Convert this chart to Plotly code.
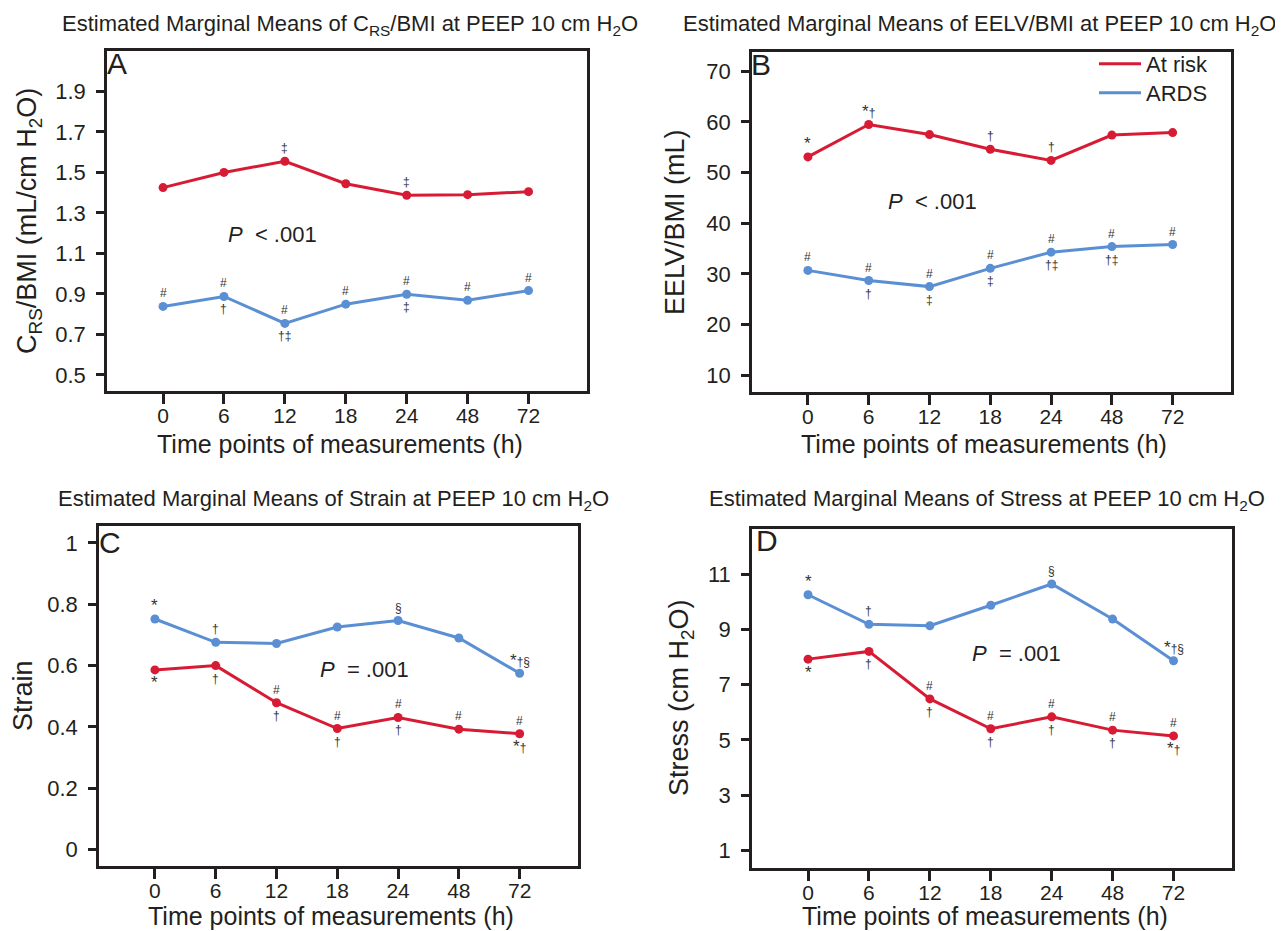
import plotly.graph_objects as go

W, H = 1283, 931

time_labels = ["0", "6", "12", "18", "24", "48", "72"]

# Panel A: CRS/BMI
a_risk = [1.425, 1.500, 1.555, 1.444, 1.387, 1.390, 1.405]
a_ards = [0.838, 0.887, 0.754, 0.849, 0.898, 0.868, 0.916]
# Panel B: EELV/BMI
b_risk = [53.1, 59.5, 57.5, 54.6, 52.4, 57.4, 57.9]
b_ards = [30.7, 28.7, 27.5, 31.1, 34.3, 35.4, 35.8]
# Panel C: Strain
c_risk = [0.586, 0.600, 0.479, 0.395, 0.431, 0.393, 0.378]
c_ards = [0.752, 0.676, 0.672, 0.726, 0.747, 0.690, 0.575]
# Panel D: Stress
d_risk = [7.92, 8.20, 6.48, 5.40, 5.83, 5.35, 5.14]
d_ards = [10.25, 9.18, 9.13, 9.87, 10.64, 9.37, 7.86]

# significance marks (above / below each point)
a_risk_above = ["", "", "‡", "", "‡", "", ""]
a_risk_below = ["", "", "", "", "", "", ""]
a_ards_above = ["#", "#", "#", "#", "#", "#", "#"]
a_ards_below = ["", "†", "†‡", "", "‡", "", ""]

b_risk_above = ["*", "*†", "", "†", "†", "", ""]
b_risk_below = ["", "", "", "", "", "", ""]
b_ards_above = ["#", "#", "#", "#", "#", "#", "#"]
b_ards_below = ["", "†", "‡", "‡", "†‡", "†‡", ""]

c_risk_above = ["", "", "#", "#", "#", "#", "#"]
c_risk_below = ["*", "†", "†", "†", "†", "", "*†"]
c_ards_above = ["*", "†", "", "", "§", "", "*†§"]
c_ards_below = ["", "", "", "", "", "", ""]

d_risk_above = ["", "", "#", "#", "#", "#", "#"]
d_risk_below = ["*", "†", "†", "†", "†", "†", "*†"]
d_ards_above = ["*", "†", "", "", "§", "", "*†§"]
d_ards_below = ["", "", "", "", "", "", ""]

a_yticks = [0.5, 0.7, 0.9, 1.1, 1.3, 1.5, 1.7, 1.9]
b_yticks = [10, 20, 30, 40, 50, 60, 70]
c_yticks = [0, 0.2, 0.4, 0.6, 0.8, 1]
d_yticks = [1, 3, 5, 7, 9, 11]

RED = "#D81B34"
BLUE = "#5B8FD4"
INK = "#231F20"
MARK = "#333333"
FONT = "Liberation Sans, Arial, sans-serif"

x_idx = list(range(len(time_labels)))

fig = go.Figure()

panels = [
    ("x", "y", a_risk, a_ards, a_risk_above, a_risk_below, a_ards_above, a_ards_below),
    ("x2", "y2", b_risk, b_ards, b_risk_above, b_risk_below, b_ards_above, b_ards_below),
    ("x3", "y3", c_risk, c_ards, c_risk_above, c_risk_below, c_ards_above, c_ards_below),
    ("x4", "y4", d_risk, d_ards, d_risk_above, d_risk_below, d_ards_above, d_ards_below),
]


def fmt_mark(t):
    return t.replace("*", "<span style='font-size:17px'>*</span>")


annotations = []
for xa, ya, risk, ards, ra, rb, aa, ab in panels:
    fig.add_trace(go.Scatter(x=x_idx, y=risk, mode="lines+markers", name="At risk",
                             line=dict(color=RED, width=3), marker=dict(color=RED, size=9),
                             xaxis=xa, yaxis=ya, showlegend=False))
    fig.add_trace(go.Scatter(x=x_idx, y=ards, mode="lines+markers", name="ARDS",
                             line=dict(color=BLUE, width=3), marker=dict(color=BLUE, size=9),
                             xaxis=xa, yaxis=ya, showlegend=False))
    for vals, above, below in ((risk, ra, rb), (ards, aa, ab)):
        for i, v in enumerate(vals):
            for txt, shift in ((above[i], 13), (below[i], -13)):
                if txt:
                    annotations.append(dict(x=i, y=v, xref=xa, yref=ya, text=fmt_mark(txt),
                                            showarrow=False, yshift=shift,
                                            font=dict(size=12, color=MARK, family=FONT)))

# legend entries (line keys only), one legend box per entry
fig.add_trace(go.Scatter(x=[None], y=[None], mode="lines", name="At risk",
                         line=dict(color=RED, width=3), xaxis="x2", yaxis="y2",
                         legend="legend"))
fig.add_trace(go.Scatter(x=[None], y=[None], mode="lines", name="ARDS",
                         line=dict(color=BLUE, width=3), xaxis="x2", yaxis="y2",
                         legend="legend2"))


def px(x):
    return x / W


def py(y):
    return 1 - y / H


def paper_text(x, y, text, size, angle=0):
    annotations.append(dict(x=px(x), y=py(y), xref="paper", yref="paper", text=text,
                            showarrow=False, textangle=angle, xanchor="center", yanchor="middle",
                            font=dict(size=size, color=INK, family=FONT)))


TS = 22
# panel titles
paper_text(342, 17, "Estimated Marginal Means of C<sub>RS</sub>/BMI at PEEP 10 cm H<sub>2</sub>O", TS)
paper_text(972, 17, "Estimated Marginal Means of EELV/BMI at PEEP 10 cm H<sub>2</sub>O", TS)
paper_text(325, 492, "Estimated Marginal Means of Strain at PEEP 10 cm H<sub>2</sub>O", TS)
paper_text(979, 492, "Estimated Marginal Means of Stress at PEEP 10 cm H<sub>2</sub>O", TS)
# panel letters
paper_text(109, 55, "A", 30)
paper_text(753, 57, "B", 30)
paper_text(102, 534, "C", 30)
paper_text(759, 532, "D", 30)
# y titles
AT = 27
paper_text(21, 213, "C<sub>RS</sub>/BMI (mL/cm H<sub>2</sub>O)", AT, angle=-90)
paper_text(667, 214, "EELV/BMI (mL)", AT, angle=-90)
paper_text(15, 688, "Strain", AT, angle=-90)
paper_text(673, 690, "Stress (cm H<sub>2</sub>O)", AT, angle=-90)
# x titles
XT = 25
paper_text(332, 436, "Time points of measurements (h)", XT)
paper_text(976, 436, "Time points of measurements (h)", XT)
paper_text(323, 908, "Time points of measurements (h)", XT)
paper_text(977, 908, "Time points of measurements (h)", XT)
# P values
paper_text(264, 226, "<i>P</i>&nbsp; &lt; .001", 22)
paper_text(925, 193, "<i>P</i>&nbsp; &lt; .001", 22)
paper_text(356, 661, "<i>P</i>&nbsp; = .001", 22)
paper_text(1008, 645, "<i>P</i>&nbsp; = .001", 22)


def xaxis(dom):
    return dict(domain=dom, range=[-0.92, 6.96], tickvals=x_idx, ticktext=time_labels,
                showline=True, mirror=True, linecolor=INK, linewidth=2.5,
                ticks="outside", ticklen=10, tickwidth=2.5, tickcolor=INK,
                showgrid=False, zeroline=False, ticklabelstandoff=-6,
                tickfont=dict(size=21, color=INK, family=FONT))


def yaxis(dom, rng, tv, anchor):
    return dict(domain=dom, range=rng, tickvals=tv, ticktext=[f"{t:g}" for t in tv],
                showline=True, mirror=True, linecolor=INK, linewidth=2.5,
                ticks="outside", ticklen=8, tickwidth=2.5, tickcolor=INK,
                showgrid=False, zeroline=False, anchor=anchor, ticklabelstandoff=6,
                tickfont=dict(size=22, color=INK, family=FONT))


legend_style = dict(xanchor="left", yanchor="top", bgcolor="rgba(0,0,0,0)",
                    font=dict(size=22, color=INK, family=FONT), itemwidth=42)

fig.update_layout(
    width=W, height=H, autosize=False,
    margin=dict(l=0, r=0, t=0, b=0),
    paper_bgcolor="white", plot_bgcolor="white",
    font=dict(family=FONT, color=INK),
    xaxis=dict(xaxis([px(99), px(579)]), anchor="y"),
    yaxis=yaxis([py(383), py(43)], [0.42, 2.10], a_yticks, "x"),
    xaxis2=dict(xaxis([px(744), px(1223)]), anchor="y2"),
    yaxis2=yaxis([py(384), py(44)], [6.7, 73.8], b_yticks, "x2"),
    xaxis3=dict(xaxis([px(91), px(570)]), anchor="y3"),
    yaxis3=yaxis([py(858), py(518)], [-0.053, 1.055], c_yticks, "x3"),
    xaxis4=dict(xaxis([px(744), px(1224)]), anchor="y4"),
    yaxis4=yaxis([py(860), py(521)], [0.36, 12.63], d_yticks, "x4"),
    legend=dict(legend_style, x=px(1086), y=py(35)),
    legend2=dict(legend_style, x=px(1086), y=py(64)),
    annotations=annotations,
    showlegend=True,
)

fig.write_html("out.html")
